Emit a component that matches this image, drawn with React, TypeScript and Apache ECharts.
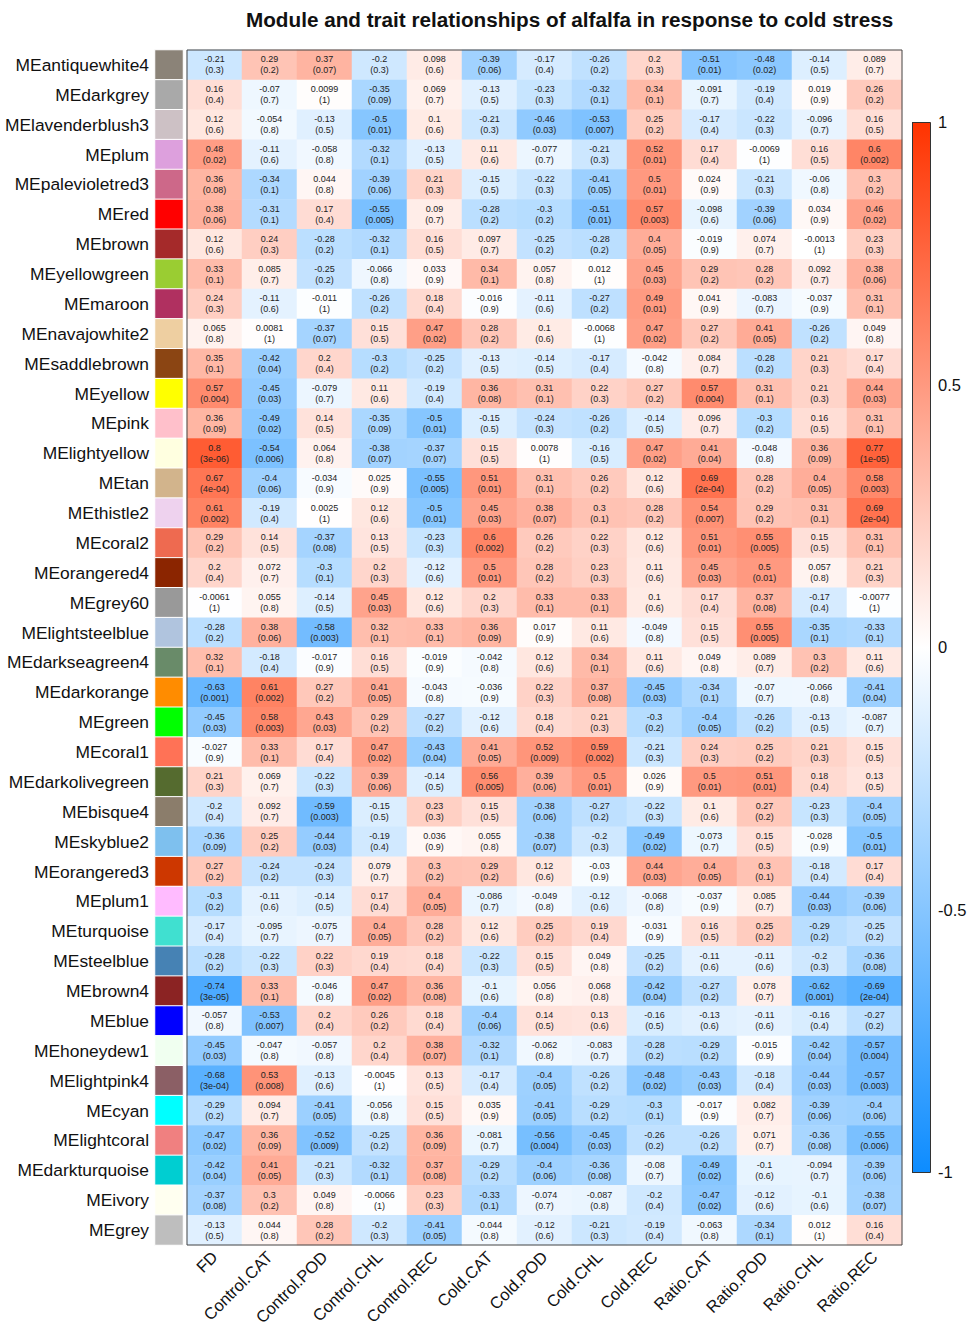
import React, { useEffect, useRef } from "react";
import * as echarts from "echarts";

// Trait columns (x axis)
const traits = [
  "FD", "Control.CAT", "Control.POD", "Control.CHL", "Control.REC",
  "Cold.CAT", "Cold.POD", "Cold.CHL", "Cold.REC",
  "Ratio.CAT", "Ratio.POD", "Ratio.CHL", "Ratio.REC",
];

// Module eigengenes (rows, top to bottom)
const modules = [
  "MEantiquewhite4", "MEdarkgrey", "MElavenderblush3", "MEplum", "MEpalevioletred3",
  "MEred", "MEbrown", "MEyellowgreen", "MEmaroon", "MEnavajowhite2",
  "MEsaddlebrown", "MEyellow", "MEpink", "MElightyellow", "MEtan",
  "MEthistle2", "MEcoral2", "MEorangered4", "MEgrey60", "MElightsteelblue",
  "MEdarkseagreen4", "MEdarkorange", "MEgreen", "MEcoral1", "MEdarkolivegreen",
  "MEbisque4", "MEskyblue2", "MEorangered3", "MEplum1", "MEturquoise",
  "MEsteelblue", "MEbrown4", "MEblue", "MEhoneydew1", "MElightpink4",
  "MEcyan", "MElightcoral", "MEdarkturquoise", "MEivory", "MEgrey",
];

// Swatch colour of each module
const moduleColors = [
  "#8B8378", "#A9A9A9", "#CDC1C5", "#DDA0DD", "#CD6889",
  "#FF0000", "#A52A2A", "#9ACD32", "#B03060", "#EECFA1",
  "#8B4513", "#FFFF00", "#FFC0CB", "#FFFFE0", "#D2B48C",
  "#EED2EE", "#EE6A50", "#8B2500", "#999999", "#B0C4DE",
  "#698B69", "#FF8C00", "#00FF00", "#FF7256", "#556B2F",
  "#8B7D6B", "#7EC0EE", "#CD3700", "#FFBBFF", "#40E0D0",
  "#4682B4", "#8B2323", "#0000FF", "#F0FFF0", "#8B5F65",
  "#00FFFF", "#F08080", "#00CED1", "#FFFFF0", "#BEBEBE",
];

// Module–trait correlations, one row per module, one column per trait
const correlations: number[][] = [
  [-0.21, 0.29, 0.37, -0.2, 0.098, -0.39, -0.17, -0.26, 0.2, -0.51, -0.48, -0.14, 0.089],
  [0.16, -0.07, 0.0099, -0.35, 0.069, -0.13, -0.23, -0.32, 0.34, -0.091, -0.19, 0.019, 0.26],
  [0.12, -0.054, -0.13, -0.5, 0.1, -0.21, -0.46, -0.53, 0.25, -0.17, -0.22, -0.096, 0.16],
  [0.48, -0.11, -0.058, -0.32, -0.13, 0.11, -0.077, -0.21, 0.52, 0.17, -0.0069, 0.16, 0.6],
  [0.36, -0.34, 0.044, -0.39, 0.21, -0.15, -0.22, -0.41, 0.5, 0.024, -0.21, -0.06, 0.3],
  [0.38, -0.31, 0.17, -0.55, 0.09, -0.28, -0.3, -0.51, 0.57, -0.098, -0.39, 0.034, 0.46],
  [0.12, 0.24, -0.28, -0.32, 0.16, 0.097, -0.25, -0.28, 0.4, -0.019, 0.074, -0.0013, 0.23],
  [0.33, 0.085, -0.25, -0.066, 0.033, 0.34, 0.057, 0.012, 0.45, 0.29, 0.28, 0.092, 0.38],
  [0.24, -0.11, -0.011, -0.26, 0.18, -0.016, -0.11, -0.27, 0.49, 0.041, -0.083, -0.037, 0.31],
  [0.065, 0.0081, -0.37, 0.15, 0.47, 0.28, 0.1, -0.0068, 0.47, 0.27, 0.41, -0.26, 0.049],
  [0.35, -0.42, 0.2, -0.3, -0.25, -0.13, -0.14, -0.17, -0.042, 0.084, -0.28, 0.21, 0.17],
  [0.57, -0.45, -0.079, 0.11, -0.19, 0.36, 0.31, 0.22, 0.27, 0.57, 0.31, 0.21, 0.44],
  [0.36, -0.49, 0.14, -0.35, -0.5, -0.15, -0.24, -0.26, -0.14, 0.096, -0.3, 0.16, 0.31],
  [0.8, -0.54, 0.064, -0.38, -0.37, 0.15, 0.0078, -0.16, 0.47, 0.41, -0.048, 0.36, 0.77],
  [0.67, -0.4, -0.034, 0.025, -0.55, 0.51, 0.31, 0.26, 0.12, 0.69, 0.28, 0.4, 0.58],
  [0.61, -0.19, 0.0025, 0.12, -0.5, 0.45, 0.38, 0.3, 0.28, 0.54, 0.29, 0.31, 0.69],
  [0.29, 0.14, -0.37, 0.13, -0.23, 0.6, 0.26, 0.22, 0.12, 0.51, 0.55, 0.15, 0.31],
  [0.2, 0.072, -0.3, 0.2, -0.12, 0.5, 0.28, 0.23, 0.11, 0.45, 0.5, 0.057, 0.21],
  [-0.0061, 0.055, -0.14, 0.45, 0.12, 0.2, 0.33, 0.33, 0.1, 0.17, 0.37, -0.17, -0.0077],
  [-0.28, 0.38, -0.58, 0.32, 0.33, 0.36, 0.017, 0.11, -0.049, 0.15, 0.55, -0.35, -0.33],
  [0.32, -0.18, -0.017, 0.16, -0.019, -0.042, 0.12, 0.34, 0.11, 0.049, 0.089, 0.3, 0.11],
  [-0.63, 0.61, 0.27, 0.41, -0.043, -0.036, 0.22, 0.37, -0.45, -0.34, -0.07, -0.066, -0.41],
  [-0.45, 0.58, 0.43, 0.29, -0.27, -0.12, 0.18, 0.21, -0.3, -0.4, -0.26, -0.13, -0.087],
  [-0.027, 0.33, 0.17, 0.47, -0.43, 0.41, 0.52, 0.59, -0.21, 0.24, 0.25, 0.21, 0.15],
  [0.21, 0.069, -0.22, 0.39, -0.14, 0.56, 0.39, 0.5, 0.026, 0.5, 0.51, 0.18, 0.13],
  [-0.2, 0.092, -0.59, -0.15, 0.23, 0.15, -0.38, -0.27, -0.22, 0.1, 0.27, -0.23, -0.4],
  [-0.36, 0.25, -0.44, -0.19, 0.036, 0.055, -0.38, -0.2, -0.49, -0.073, 0.15, -0.028, -0.5],
  [0.27, -0.24, -0.24, 0.079, 0.3, 0.29, 0.12, -0.03, 0.44, 0.4, 0.3, -0.18, 0.17],
  [-0.3, -0.11, -0.14, 0.17, 0.4, -0.086, -0.049, -0.12, -0.068, -0.037, 0.085, -0.44, -0.39],
  [-0.17, -0.095, -0.075, 0.4, 0.28, 0.12, 0.25, 0.19, -0.031, 0.16, 0.25, -0.29, -0.25],
  [-0.28, -0.22, 0.22, 0.19, 0.18, -0.22, 0.15, 0.049, -0.25, -0.11, -0.11, -0.2, -0.36],
  [-0.74, 0.33, -0.046, 0.47, 0.36, -0.1, 0.056, 0.068, -0.42, -0.27, 0.078, -0.62, -0.69],
  [-0.057, -0.53, 0.2, 0.26, 0.18, -0.4, 0.14, 0.13, -0.16, -0.13, -0.11, -0.16, -0.27],
  [-0.45, -0.047, -0.057, 0.2, 0.38, -0.32, -0.062, -0.083, -0.28, -0.29, -0.015, -0.42, -0.57],
  [-0.68, 0.53, -0.13, -0.0045, 0.13, -0.17, -0.4, -0.26, -0.48, -0.43, -0.18, -0.44, -0.57],
  [-0.29, 0.094, -0.41, -0.056, 0.15, 0.035, -0.41, -0.29, -0.3, -0.017, 0.082, -0.39, -0.4],
  [-0.47, 0.36, -0.52, -0.25, 0.36, -0.081, -0.56, -0.45, -0.26, -0.26, 0.071, -0.36, -0.55],
  [-0.42, 0.41, -0.21, -0.32, 0.37, -0.29, -0.4, -0.36, -0.08, -0.49, -0.1, -0.094, -0.39],
  [-0.37, 0.3, 0.049, -0.0066, 0.23, -0.33, -0.074, -0.087, -0.2, -0.47, -0.12, -0.1, -0.38],
  [-0.13, 0.044, 0.28, -0.2, -0.41, -0.044, -0.12, -0.21, -0.19, -0.063, -0.34, 0.012, 0.16],
];

// Matching p-values, as printed
const pValues: string[][] = [
  ["0.3", "0.2", "0.07", "0.3", "0.6", "0.06", "0.4", "0.2", "0.3", "0.01", "0.02", "0.5", "0.7"],
  ["0.4", "0.7", "1", "0.09", "0.7", "0.5", "0.3", "0.1", "0.1", "0.7", "0.4", "0.9", "0.2"],
  ["0.6", "0.8", "0.5", "0.01", "0.6", "0.3", "0.03", "0.007", "0.2", "0.4", "0.3", "0.7", "0.5"],
  ["0.02", "0.6", "0.8", "0.1", "0.5", "0.6", "0.7", "0.3", "0.01", "0.4", "1", "0.5", "0.002"],
  ["0.08", "0.1", "0.8", "0.06", "0.3", "0.5", "0.3", "0.05", "0.01", "0.9", "0.3", "0.8", "0.2"],
  ["0.06", "0.1", "0.4", "0.005", "0.7", "0.2", "0.2", "0.01", "0.003", "0.6", "0.06", "0.9", "0.02"],
  ["0.6", "0.3", "0.2", "0.1", "0.5", "0.7", "0.2", "0.2", "0.05", "0.9", "0.7", "1", "0.3"],
  ["0.1", "0.7", "0.2", "0.8", "0.9", "0.1", "0.8", "1", "0.03", "0.2", "0.2", "0.7", "0.06"],
  ["0.3", "0.6", "1", "0.2", "0.4", "0.9", "0.6", "0.2", "0.01", "0.9", "0.7", "0.9", "0.1"],
  ["0.8", "1", "0.07", "0.5", "0.02", "0.2", "0.6", "1", "0.02", "0.2", "0.05", "0.2", "0.8"],
  ["0.1", "0.04", "0.4", "0.2", "0.2", "0.5", "0.5", "0.4", "0.8", "0.7", "0.2", "0.3", "0.4"],
  ["0.004", "0.03", "0.7", "0.6", "0.4", "0.08", "0.1", "0.3", "0.2", "0.004", "0.1", "0.3", "0.03"],
  ["0.09", "0.02", "0.5", "0.09", "0.01", "0.5", "0.3", "0.2", "0.5", "0.7", "0.2", "0.5", "0.1"],
  ["3e-06", "0.006", "0.8", "0.07", "0.07", "0.5", "1", "0.5", "0.02", "0.04", "0.8", "0.09", "1e-05"],
  ["4e-04", "0.06", "0.9", "0.9", "0.005", "0.01", "0.1", "0.2", "0.6", "2e-04", "0.2", "0.05", "0.003"],
  ["0.002", "0.4", "1", "0.6", "0.01", "0.03", "0.07", "0.1", "0.2", "0.007", "0.2", "0.1", "2e-04"],
  ["0.2", "0.5", "0.08", "0.5", "0.3", "0.002", "0.2", "0.3", "0.6", "0.01", "0.005", "0.5", "0.1"],
  ["0.4", "0.7", "0.1", "0.3", "0.6", "0.01", "0.2", "0.3", "0.6", "0.03", "0.01", "0.8", "0.3"],
  ["1", "0.8", "0.5", "0.03", "0.6", "0.3", "0.1", "0.1", "0.6", "0.4", "0.08", "0.4", "1"],
  ["0.2", "0.06", "0.003", "0.1", "0.1", "0.09", "0.9", "0.6", "0.8", "0.5", "0.005", "0.1", "0.1"],
  ["0.1", "0.4", "0.9", "0.5", "0.9", "0.8", "0.6", "0.1", "0.6", "0.8", "0.7", "0.2", "0.6"],
  ["0.001", "0.002", "0.2", "0.05", "0.8", "0.9", "0.3", "0.08", "0.03", "0.1", "0.7", "0.8", "0.04"],
  ["0.03", "0.003", "0.03", "0.2", "0.2", "0.6", "0.4", "0.3", "0.2", "0.05", "0.2", "0.5", "0.7"],
  ["0.9", "0.1", "0.4", "0.02", "0.04", "0.05", "0.009", "0.002", "0.3", "0.3", "0.2", "0.3", "0.5"],
  ["0.3", "0.7", "0.3", "0.06", "0.5", "0.005", "0.06", "0.01", "0.9", "0.01", "0.01", "0.4", "0.5"],
  ["0.4", "0.7", "0.003", "0.5", "0.3", "0.5", "0.06", "0.2", "0.3", "0.6", "0.2", "0.3", "0.05"],
  ["0.09", "0.2", "0.03", "0.4", "0.9", "0.8", "0.07", "0.3", "0.02", "0.7", "0.5", "0.9", "0.01"],
  ["0.2", "0.2", "0.3", "0.7", "0.2", "0.2", "0.6", "0.9", "0.03", "0.05", "0.1", "0.4", "0.4"],
  ["0.2", "0.6", "0.5", "0.4", "0.05", "0.7", "0.8", "0.6", "0.8", "0.9", "0.7", "0.03", "0.06"],
  ["0.4", "0.7", "0.7", "0.05", "0.2", "0.6", "0.2", "0.4", "0.9", "0.5", "0.2", "0.2", "0.2"],
  ["0.2", "0.3", "0.3", "0.4", "0.4", "0.3", "0.5", "0.8", "0.2", "0.6", "0.6", "0.3", "0.08"],
  ["3e-05", "0.1", "0.8", "0.02", "0.08", "0.6", "0.8", "0.8", "0.04", "0.2", "0.7", "0.001", "2e-04"],
  ["0.8", "0.007", "0.4", "0.2", "0.4", "0.06", "0.5", "0.6", "0.5", "0.6", "0.6", "0.4", "0.2"],
  ["0.03", "0.8", "0.8", "0.4", "0.07", "0.1", "0.8", "0.7", "0.2", "0.2", "0.9", "0.04", "0.004"],
  ["3e-04", "0.008", "0.6", "1", "0.5", "0.4", "0.05", "0.2", "0.02", "0.03", "0.4", "0.03", "0.003"],
  ["0.2", "0.7", "0.05", "0.8", "0.5", "0.9", "0.05", "0.2", "0.1", "0.9", "0.7", "0.06", "0.06"],
  ["0.02", "0.09", "0.009", "0.2", "0.09", "0.7", "0.004", "0.03", "0.2", "0.2", "0.7", "0.08", "0.006"],
  ["0.04", "0.05", "0.3", "0.1", "0.08", "0.2", "0.06", "0.08", "0.7", "0.02", "0.6", "0.7", "0.06"],
  ["0.08", "0.2", "0.8", "1", "0.3", "0.1", "0.7", "0.8", "0.4", "0.02", "0.6", "0.6", "0.07"],
  ["0.5", "0.8", "0.2", "0.3", "0.05", "0.8", "0.6", "0.3", "0.4", "0.8", "0.1", "1", "0.4"],
];

// Colour-scale ticks
const scaleTicks = [-1, -0.5, 0, 0.5, 1];

const FONT = "Liberation Sans, Arial, Helvetica, sans-serif";
const BLUE_END = "#0D8CFF";
const RED_END = "#FF3300";

// Plot geometry
const HM = { left: 187, top: 50, width: 715, height: 1195 };
const SW = { left: 155, width: 28 };
const CB = { left: 912, top: 122, width: 18, height: 1050 };

export default function App() {
  const ref = useRef<HTMLDivElement>(null);

  useEffect(() => {
    if (!ref.current) return;
    const chart = echarts.init(ref.current, undefined, { renderer: "svg" });

    const cells: [number, number, number][] = [];
    correlations.forEach((row, y) => row.forEach((v, x) => cells.push([x, y, v])));

    // one swatch per module; third value is the module index
    const swatches = modules.map((_, y) => [0, y, y]);

    chart.setOption({
      animation: false,
      backgroundColor: "#ffffff",
      textStyle: { fontFamily: FONT },
      title: {
        text: "Module and trait relationships of alfalfa in response to cold stress",
        left: 241,
        top: 4,
        textStyle: { fontFamily: FONT, fontSize: 20.7, fontWeight: "bold", color: "#111" },
      },
      grid: [
        { left: HM.left, top: HM.top, width: HM.width, height: HM.height, outerBoundsMode: "none" },
        { left: SW.left, top: HM.top, width: SW.width, height: HM.height, outerBoundsMode: "none" },
        { left: CB.left, top: CB.top, width: CB.width, height: CB.height, outerBoundsMode: "none" },
      ],
      xAxis: [
        {
          type: "category",
          gridIndex: 0,
          data: traits,
          axisLine: { show: false },
          axisTick: { show: false },
          splitLine: { show: false },
          axisLabel: {
            rotate: 45,
            interval: 0,
            margin: 9,
            fontSize: 16.5,
            color: "#111",
            fontFamily: FONT,
          },
        },
        { type: "category", gridIndex: 1, data: ["color"], show: false },
        { type: "value", gridIndex: 2, show: false },
      ],
      yAxis: [
        {
          type: "category",
          gridIndex: 0,
          data: modules,
          inverse: true,
          axisLine: { show: false },
          axisTick: { show: false },
          splitLine: { show: false },
          axisLabel: {
            interval: 0,
            margin: 38,
            fontSize: 17.4,
            color: "#111",
            fontFamily: FONT,
          },
        },
        { type: "category", gridIndex: 1, data: modules, inverse: true, show: false },
        {
          type: "value",
          gridIndex: 2,
          min: -1,
          max: 1,
          interval: 0.5,
          position: "right",
          axisLine: { show: false },
          splitLine: { show: false },
          axisTick: { show: true, length: 6, lineStyle: { color: "#222" } },
          axisLabel: {
            show: true,
            margin: 8,
            fontSize: 16.5,
            color: "#111",
            fontFamily: FONT,
            customValues: scaleTicks,
          },
        },
      ],
      visualMap: [
        {
          type: "continuous",
          show: false,
          min: -1,
          max: 1,
          seriesIndex: 0,
          dimension: 2,
          inRange: { color: [BLUE_END, "#FFFFFF", RED_END] },
        },
        {
          type: "piecewise",
          show: false,
          seriesIndex: 1,
          dimension: 2,
          pieces: moduleColors.map((c, i) => ({ value: i, color: c })),
        },
      ],
      graphic: [
        {
          type: "rect",
          left: CB.left,
          top: CB.top,
          shape: { width: CB.width, height: CB.height },
          style: {
            fill: new echarts.graphic.LinearGradient(0, 0, 0, 1, [
              { offset: 0, color: RED_END },
              { offset: 0.5, color: "#FFFFFF" },
              { offset: 1, color: BLUE_END },
            ]),
            stroke: "#333",
            lineWidth: 1,
          },
          z: 1,
        },
        {
          type: "rect",
          shape: { x: HM.left, y: HM.top, width: HM.width, height: HM.height },
          style: { fill: "none", stroke: "#444", lineWidth: 1 },
          z: 10,
          silent: true,
        },
      ],
      series: [
        {
          type: "heatmap",
          xAxisIndex: 0,
          yAxisIndex: 0,
          data: cells,
          label: {
            show: true,
            fontSize: 9,
            lineHeight: 11,
            color: "#222",
            fontFamily: FONT,
            formatter: (p: any) => {
              const [x, y, v] = p.data as [number, number, number];
              return `${v}\n(${pValues[y][x]})`;
            },
          },
          itemStyle: { borderWidth: 0 },
          emphasis: { disabled: true },
        },
        {
          type: "heatmap",
          xAxisIndex: 1,
          yAxisIndex: 1,
          data: swatches,
          itemStyle: { borderColor: "#ffffff", borderWidth: 1 },
          label: { show: false },
          emphasis: { disabled: true },
        },
      ],
    });

    return () => chart.dispose();
  }, []);

  return (
    <div
      ref={ref}
      style={{ position: "absolute", left: 0, top: 0, width: 976, height: 1329 }}
    />
  );
}
